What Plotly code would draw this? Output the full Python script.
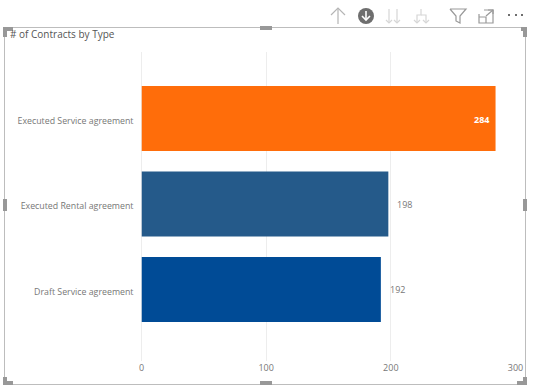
import plotly.graph_objects as go

categories = ["Executed Service agreement", "Executed Rental agreement", "Draft Service agreement"]
values = [284, 198, 192]
colors = ["#FF6D0A", "#255A8A", "#004B96"]
tick_vals = [0, 100, 200, 300]
title_text = "# of Contracts by Type"

W, H = 535, 390
FONT = "Open Sans, Noto Sans, sans-serif"
GREY = "#777777"
FRAME = "#BDBDBD"
HANDLE = "#989898"
ICON = "#B5B5B5"
ICON_DARK = "#6E6E6E"
ICON_FAINT = "#D6D6D6"
ICON_MID = "#999999"


def px(x):
    return x / W


def py(y):
    return 1 - y / H


def path(points):
    return "M" + " L".join(f"{px(x):.5f},{py(y):.5f}" for x, y in points)


shapes = []


def line(points, color=ICON, width=1.2):
    shapes.append(dict(type="path", xref="paper", yref="paper", path=path(points),
                       line=dict(color=color, width=width), layer="above"))


def box(x0, y0, x1, y1, color=HANDLE):
    shapes.append(dict(type="rect", xref="paper", yref="paper", x0=px(x0), x1=px(x1),
                       y0=py(y0), y1=py(y1), fillcolor=color, line=dict(width=0), layer="above"))


# Visual frame
shapes.append(dict(type="rect", xref="paper", yref="paper", x0=px(4.5), x1=px(525.5),
                   y0=py(27.5), y1=py(384.5), line=dict(color=FRAME, width=1),
                   fillcolor="rgba(0,0,0,0)", layer="above"))
# Resize handles
for a in [(3, 27, 13, 31), (3, 27, 7, 37), (521, 27, 527, 31), (523, 27, 527, 37),
          (3, 381, 13, 385), (3, 377, 7, 385), (517, 381, 527, 385), (523, 377, 527, 385),
          (260, 26, 272, 30), (260, 381, 272, 385), (523, 199, 527, 211), (3, 199, 7, 211)]:
    box(*a)

# Toolbar icons
line([(338, 24), (338, 9)])
line([(331, 15), (338, 8), (345, 15)])
shapes.append(dict(type="circle", xref="paper", yref="paper", x0=px(358), x1=px(374),
                   y0=py(24), y1=py(8), fillcolor=ICON_DARK, line=dict(width=0), layer="above"))
line([(366, 11), (366, 20)], "white", 1.6)
line([(362, 16), (366, 20), (370, 16)], "white", 1.6)
for x in (389, 397):
    line([(x, 9), (x, 23)], ICON_FAINT)
    line([(x - 3, 20), (x, 23), (x + 3, 20)], ICON_FAINT)
line([(421, 9), (421, 15), (417, 15), (417, 23)], ICON_FAINT)
line([(421, 15), (426, 15), (426, 23)], ICON_FAINT)
line([(414, 20), (417, 23), (420, 20)], ICON_FAINT)
line([(423, 20), (426, 23), (429, 20)], ICON_FAINT)
line([(450, 9), (466, 9), (460, 16), (460, 23), (456, 21), (456, 16), (450, 9)], ICON_MID)
line([(479, 14), (479, 23), (493, 23), (493, 10), (484, 10)], ICON_MID)
line([(479, 17), (486, 17), (486, 23)], ICON_MID)
line([(486, 16), (493, 10)], ICON_MID)
line([(488, 10), (493, 10), (493, 14)], ICON_MID)
for x in (508, 515, 521):
    box(x, 14, x + 2, 16, ICON_DARK)

fig = go.Figure(go.Bar(
    x=values, y=categories, orientation="h",
    marker=dict(color=colors, line=dict(width=0)),
    width=0.76, hoverinfo="skip",
))

annotations = [dict(
    text=title_text, xref="paper", yref="paper", x=px(8), y=py(34),
    xanchor="left", yanchor="middle", showarrow=False,
    font=dict(family=FONT, size=10, color="#555555"),
)]
for i, (c, v) in enumerate(zip(categories, values)):
    inside = i == 0
    annotations.append(dict(
        text=f"<b>{v}</b>" if inside else str(v), x=v, y=c, xref="x", yref="y",
        xanchor="right" if inside else "left", yanchor="middle", showarrow=False,
        xshift=-5 if inside else 7, yshift=-1 if inside else 0,
        font=dict(family=FONT, size=9, color="white" if inside else GREY),
    ))

fig.update_layout(
    width=W, height=H, autosize=False,
    margin=dict(l=0, r=0, t=0, b=0),
    paper_bgcolor="white", plot_bgcolor="white",
    showlegend=False,
    shapes=shapes, annotations=annotations,
    xaxis=dict(
        domain=[px(141.5), px(515.5)], range=[0, 300], tickvals=tick_vals,
        showgrid=True, gridcolor="#EDEDED", gridwidth=1, zeroline=True,
        zerolinecolor="#EDEDED", zerolinewidth=1, showline=False, ticks="",
        tickfont=dict(family=FONT, size=9, color=GREY),
        anchor="free", position=py(361), automargin=False,
    ),
    yaxis=dict(
        domain=[py(361), py(52)], range=[2.836, -0.778],
        type="category", categoryorder="array", categoryarray=categories,
        showgrid=False, showline=False, ticks="", zeroline=False,
        tickfont=dict(family=FONT, size=8.8, color=GREY),
        anchor="x", automargin=False, ticklabelstandoff=7, ticklabelshift=-2,
    ),
)

fig.write_html(
    "out.html",
    config=dict(displayModeBar=False),
    post_script="document.body.style.margin='0';document.body.style.overflow='hidden';",
)
